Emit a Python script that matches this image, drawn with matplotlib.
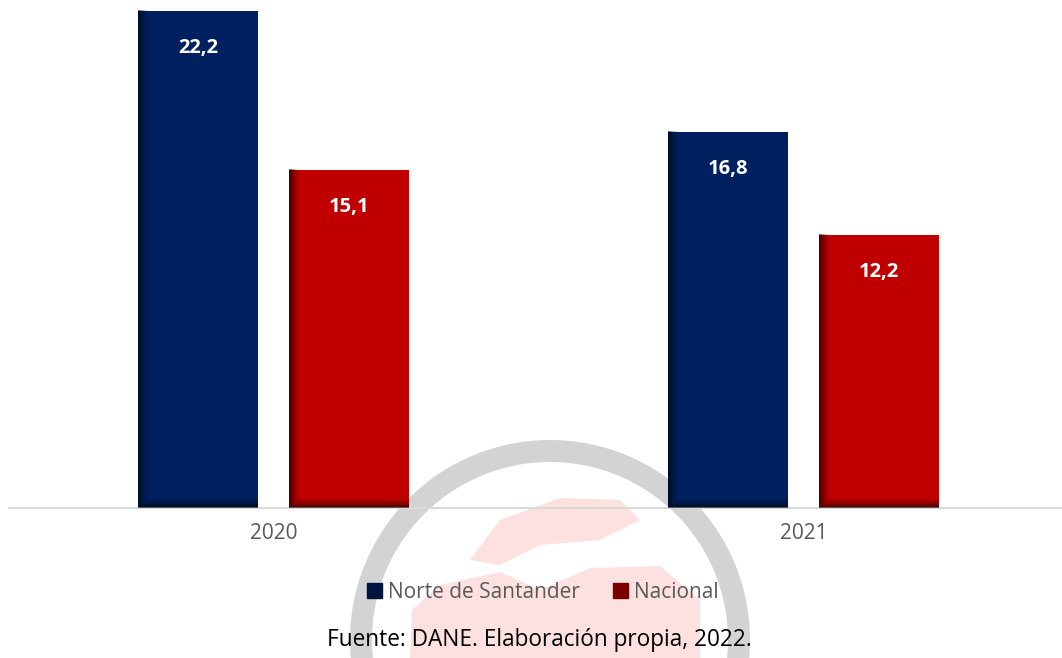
import numpy as np
import matplotlib
matplotlib.use("Agg")
import matplotlib.pyplot as plt
from matplotlib.patches import Patch, Wedge, Polygon

plt.rcParams['font.family'] = ['Open Sans', 'DejaVu Sans']

years = ['2020', '2021']
series = ['Norte de Santander', 'Nacional']
norte = [22.2, 16.8]
nacional = [15.1, 12.2]
colors = ['#002060', '#C00000']
legend_colors = ['#001440', '#7a0000']
source = 'Fuente: DANE. Elaboración propia, 2022.'

W, H = 1062, 658
fig = plt.figure(figsize=(W / 100, H / 100), dpi=100)

# watermark (faint logo behind the chart)
wm = fig.add_axes([0, 0, 1, 1], zorder=0)
wm.set_xlim(0, W)
wm.set_ylim(H, 0)
wm.axis('off')
wm.add_patch(Wedge((550, 640), 200, 0, 360, width=22, color='#d3d3d3', lw=0))
wm.add_patch(Polygon([(412, 610), (440, 585), (500, 572), (540, 590), (590, 568),
                      (660, 566), (700, 600), (700, 658), (410, 658)],
                     closed=True, color='#fde0e0', lw=0))
wm.add_patch(Polygon([(470, 560), (500, 520), (560, 498), (620, 500), (640, 520),
                      (600, 540), (540, 545), (500, 565)],
                     closed=True, color='#fde0e0', lw=0))

ax = fig.add_axes([9 / W, (H - 508) / H, 1053 / W, 508 / H], zorder=1)
ax.patch.set_alpha(0)

x = np.arange(len(years))
bw = 0.226
off = 0.1425
bars1 = ax.bar(x - off, norte, bw, color=colors[0], zorder=2)
bars2 = ax.bar(x + off, nacional, bw, color=colors[1], zorder=2)

# shading on left and bottom edges of the bars
ny, nx = 200, 60
gx = np.linspace(0, 1, nx)
for bars in (bars1, bars2):
    for b in bars:
        x0, w, h = b.get_x(), b.get_width(), b.get_height()
        edge_x = np.clip(1 - gx * w * 530 / 11, 0, 1)[None, :] ** 1.5
        px_h = h * 22.39
        gy = np.linspace(0, 1, ny)[:, None]
        edge_y = np.clip(1 - gy * px_h / 10, 0, 1) ** 1.5
        a = np.maximum(edge_x, edge_y) * 0.6
        img = np.zeros((ny, nx, 4))
        img[..., 3] = a
        ax.imshow(img, extent=(x0, x0 + w, 0, h), origin='lower',
                  aspect='auto', zorder=3, interpolation='bilinear')

for bars, vals in ((bars1, norte), (bars2, nacional)):
    for b, v in zip(bars, vals):
        ax.annotate(f'{v:.1f}'.replace('.', ','),
                    (b.get_x() + b.get_width() / 2, b.get_height()),
                    xytext=(0, -27), textcoords='offset points',
                    ha='center', va='center', color='white',
                    fontsize=14.5, fontweight='bold', zorder=4)

ax.set_xlim(-0.499, 1.488)
ax.set_ylim(0, 508 / 22.39)
ax.set_xticks(x)
ax.set_xticklabels(years, fontsize=15, color='#595959')
ax.tick_params(axis='x', length=0, pad=11)
ax.set_yticks([])
for s in ('top', 'right', 'left'):
    ax.spines[s].set_visible(False)
ax.spines['bottom'].set_color('#d9d9d9')
ax.spines['bottom'].set_linewidth(1.5)

handles = [Patch(color=c, label=s) for c, s in zip(legend_colors, series)]
leg = fig.legend(handles=handles, loc='center', bbox_to_anchor=(0.511, 0.100),
                 ncol=2, frameon=False, fontsize=15, handlelength=0.7,
                 handleheight=0.7, handletextpad=0.3, columnspacing=1.6)
for t in leg.get_texts():
    t.set_color('#595959')

fig.text(539.5 / W, 1 - 640 / H, source, ha='center', va='center',
         fontsize=16.3, color='black')

fig.savefig('out.png', dpi=100)
